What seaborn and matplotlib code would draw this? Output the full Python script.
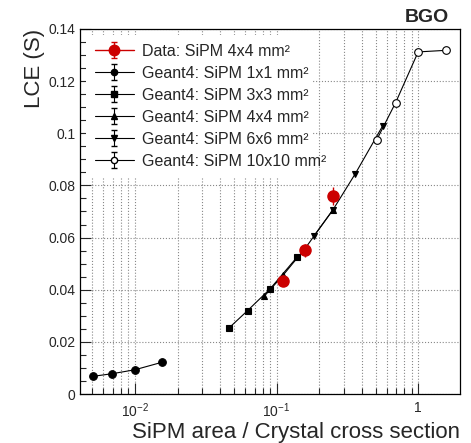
import numpy as np
import pandas as pd
import matplotlib
matplotlib.use("Agg")
import matplotlib.pyplot as plt
from matplotlib.ticker import FixedLocator, FuncFormatter, LogLocator, NullFormatter, MultipleLocator
import seaborn as sns

sns.set_style("ticks")
plt.rcParams['font.family'] = ['Liberation Sans', 'DejaVu Sans']
plt.rcParams['mathtext.fontset'] = 'custom'
plt.rcParams['mathtext.rm'] = 'Liberation Sans'
plt.rcParams['mathtext.it'] = 'Liberation Sans:italic'

# SiPM area / crystal cross section (crystals 14, 12, 10, 8 mm)
x_1x1 = [0.0051, 0.00694, 0.0100, 0.0156]
y_1x1 = [0.0068, 0.0078, 0.0093, 0.0122]
x_3x3 = [0.0459, 0.0625, 0.090, 0.1406]
y_3x3 = [0.0252, 0.0320, 0.0403, 0.0527]
x_4x4 = [0.0816, 0.111, 0.160, 0.250]
y_4x4 = [0.0374, 0.0455, 0.0560, 0.0706]
x_6x6 = [0.184, 0.250, 0.360, 0.5625]
y_6x6 = [0.0607, 0.0706, 0.0845, 0.1029]
x_10x10 = [0.510, 0.694, 1.000, 1.5625]
y_10x10 = [0.0975, 0.1118, 0.1312, 0.1318]

x_data = [0.111, 0.160, 0.250]
y_data = [0.0435, 0.0552, 0.0760]
e_data = [0.0020, 0.0025, 0.0035]

labels = ["Data: SiPM 4x4 mm²", "Geant4: SiPM 1x1 mm²", "Geant4: SiPM 3x3 mm²",
          "Geant4: SiPM 4x4 mm²", "Geant4: SiPM 6x6 mm²", "Geant4: SiPM 10x10 mm²"]

red = "#cc0000"
series = [
    (x_1x1, y_1x1, dict(marker="o", markersize=5.5, markerfacecolor="black")),
    (x_3x3, y_3x3, dict(marker="s", markersize=5, markerfacecolor="black")),
    (x_4x4, y_4x4, dict(marker="^", markersize=5, markerfacecolor="black")),
    (x_6x6, y_6x6, dict(marker="v", markersize=5, markerfacecolor="black")),
    (x_10x10, y_10x10, dict(marker="o", markersize=5.5, markerfacecolor="white")),
]

fig = plt.figure(figsize=(4.71, 4.43), dpi=100)
ax = fig.add_axes([0.170, 0.1106, 0.807, 0.824])

for xs, ys, kw in series:
    df = pd.DataFrame({"x": xs, "y": ys})
    sns.lineplot(data=df, x="x", y="y", ax=ax, color="black", lw=0.8,
                 markeredgecolor="black", markeredgewidth=0.8, zorder=3, **kw)

ax.errorbar(x_data, y_data, yerr=e_data, fmt="o", color=red, ms=8, elinewidth=1,
            capsize=0, zorder=4)

# legend proxies
handles = []
h = ax.errorbar([np.nan], [np.nan], yerr=[1], fmt="o", color=red, ms=7.5, lw=1,
                capsize=2, ls="-")
handles.append(h)
for xs, ys, kw in series:
    kw2 = dict(kw)
    kw2["markersize"] = kw["markersize"] - 1
    h = ax.errorbar([np.nan], [np.nan], yerr=[1], color="black", lw=0.8, capsize=2.5,
                    ls="-", markeredgecolor="black", **kw2)
    handles.append(h)

ax.set_xscale("log")
ax.set_xlim(0.0041, 1.98)
ax.set_ylim(0, 0.14)

ax.xaxis.set_major_locator(FixedLocator([0.01, 0.1, 1]))
ax.xaxis.set_major_formatter(FuncFormatter(lambda v, p: {0.01: "$10^{-2}$", 0.1: "$10^{-1}$", 1: "1"}.get(round(v, 3), "")))
ax.xaxis.set_minor_locator(LogLocator(base=10, subs=np.arange(2, 10), numticks=20))
ax.xaxis.set_minor_formatter(NullFormatter())
ax.yaxis.set_major_locator(MultipleLocator(0.02))
ax.yaxis.set_minor_locator(MultipleLocator(0.005))
ax.yaxis.set_major_formatter(FuncFormatter(lambda v, p: "%g" % round(v, 3)))

ax.tick_params(which="both", direction="in", labelsize=10, width=0.8)
ax.tick_params(which="major", length=8)
ax.tick_params(which="minor", length=4)
ax.tick_params(axis="x", pad=5)

ax.grid(which="major", axis="both", color="#888888", ls=":", lw=0.8)
ax.grid(which="minor", axis="x", color="#888888", ls=":", lw=0.8)
ax.set_axisbelow(True)
for s in ax.spines.values():
    s.set_linewidth(0.9)
    s.set_color("black")

ax.set_xlabel("SiPM area / Crystal cross section", fontsize=16, loc="right", labelpad=2)
ax.set_ylabel("LCE (S)", fontsize=16, loc="top", labelpad=2)

leg = ax.legend(handles, labels, loc="upper left", bbox_to_anchor=(0.015, 0.984, 0.595, 0.0),
                mode="expand", fontsize=11.5, frameon=True, framealpha=1,
                facecolor="white", edgecolor="none", fancybox=False, borderaxespad=0,
                handlelength=2.45, handletextpad=0.5, labelspacing=0.44, borderpad=0.55)
leg.set_zorder(5)

fig.text(0.953, 0.9503, "BGO", fontsize=14, fontweight="bold", ha="right", va="baseline")

fig.savefig("out.png", dpi=100)
